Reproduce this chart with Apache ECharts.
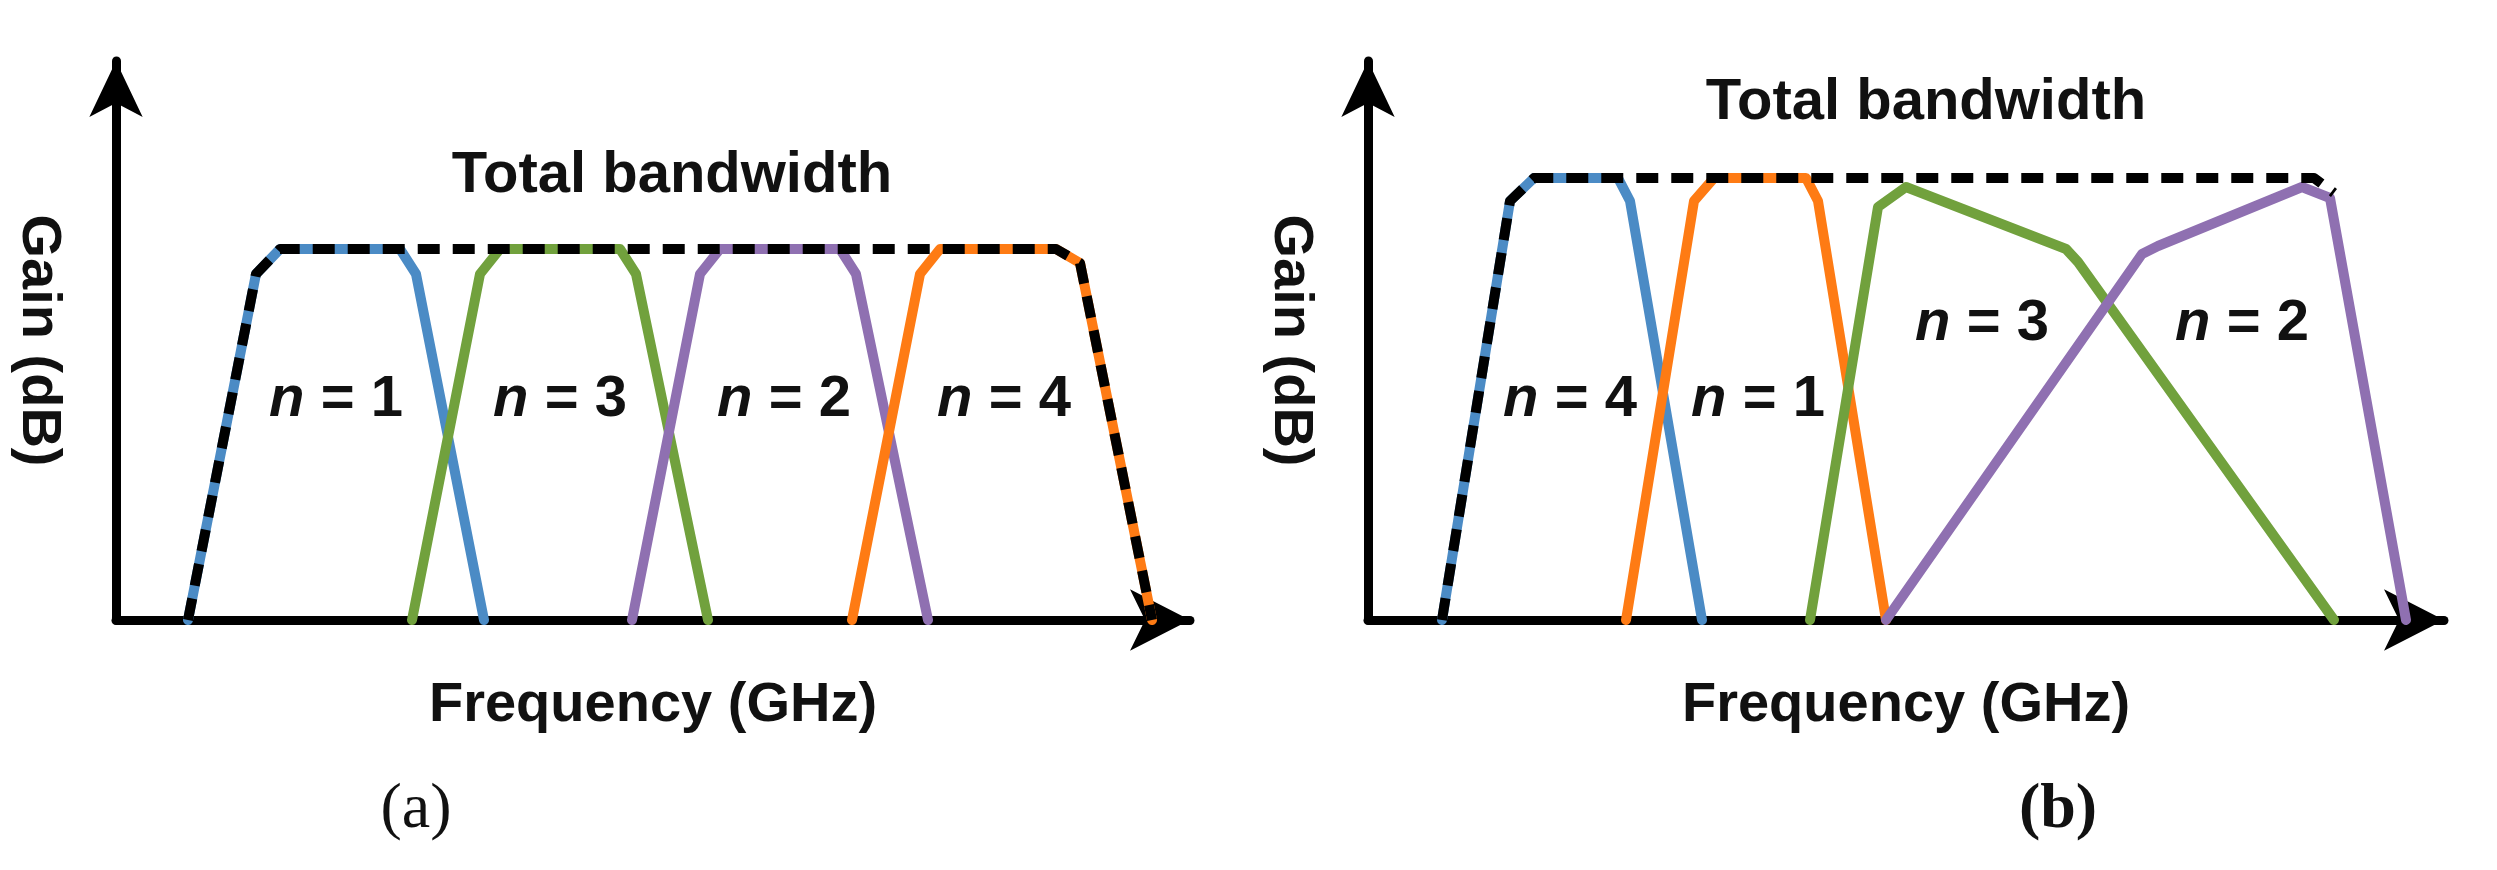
<!DOCTYPE html>
<html>
<head>
<meta charset="utf-8">
<script src="https://cdn.jsdelivr.net/npm/echarts@6/dist/echarts.min.js"></script>
<style>html,body{margin:0;background:#fff}#main{width:2497px;height:870px}</style>
</head>
<body>
<div id="main"></div>
<script>
// x = frequency offset from the gain axis, y = gain (arbitrary units)
var totalA = [[72,0],[140,346],[164,371],[940,371],[964,357],[1036,0]];
var n1A = [[72,0],[140,346],[164,371],[284,371],[300,346],[368,0]];
var n3A = [[296,0],[364,346],[384,371],[504,371],[520,346],[592,0]];
var n2A = [[516,0],[584,346],[604,371],[724,371],[740,346],[812,0]];
var n4A = [[736,0],[804,346],[824,371],[940,371],[964,357],[1036,0]];

var totalB = [[74,0],[142,419],[166,442],[946,442],[966,427]];
var n4B = [[74,0],[142,419],[166,442],[250,442],[262,419],[334,0]];
var n1B = [[258,0],[326,419],[346,442],[438,442],[450,419],[518,0]];
var n3B = [[442,0],[510,413],[538,433],[698,371],[710,358],[966,0]];
var n2B = [[518,0],[774,366],[790,374],[934,433],[962,422],[1038,0]];

var labelsA = [['n = 1',336,400],['n = 3',560,400],['n = 2',784,400],['n = 4',1004,400]];
var labelsB = [['n = 4',1570,400],['n = 1',1758,400],['n = 3',1982,324],['n = 2',2242,324]];

var BLUE = '#4b8bc5', GREEN = '#71a13d', PURPLE = '#8f70b1', ORANGE = '#fe7b14';
var FONT = '"Liberation Sans Narrow", "Liberation Sans", Arial, sans-serif';

var myChart = echarts.init(document.getElementById('main'));

function axes(i, xmax) {
    var axLine = {show: true, symbol: ['none', 'arrow'], lineStyle: {color: '#000', width: 9}};
    return {
        x: {
            gridIndex: i, type: 'value', min: 0, max: xmax,
            axisLine: Object.assign({}, axLine, {symbolSize: [46, 60]}),
            axisTick: {show: false}, axisLabel: {show: false}, splitLine: {show: false},
            name: 'Frequency (GHz)', nameLocation: 'middle', nameGap: 58,
            nameTextStyle: {fontFamily: FONT, fontWeight: 'bold', fontSize: 56, color: '#111'}
        },
        y: {
            gridIndex: i, type: 'value', min: 0, max: 559,
            axisLine: Object.assign({}, axLine, {symbolSize: [40, 56]}),
            axisTick: {show: false}, axisLabel: {show: false}, splitLine: {show: false},
            name: 'Gain (dB)', nameLocation: 'middle', nameGap: 50, nameRotate: -90,
            nameTextStyle: {fontFamily: FONT, fontWeight: 'bold', fontSize: 56, color: '#111'}
        }
    };
}
var ax0 = axes(0, 1074), ax1 = axes(1, 1076);

function line(data, color, idx, z) {
    return {
        type: 'line', data: data, xAxisIndex: idx, yAxisIndex: idx,
        showSymbol: false, z: z || 2, silent: true,
        lineStyle: {color: color, width: 10, join: 'round', cap: 'round'}
    };
}
function dashed(data, idx) {
    var s = line(data, '#000', idx, 5);
    s.lineStyle.type = [22, 13];
    s.lineStyle.cap = 'butt';
    return s;
}

var texts = [];
function addText(t, x, y, size, italicN) {
    texts.push({
        type: 'text', x: x, y: y, z: 10,
        style: {text: t, fontFamily: FONT, fontWeight: 'bold', fontSize: size,
            fontStyle: italicN ? 'normal' : 'normal', fill: '#111', align: 'center', verticalAlign: 'middle'}
    });
}
labelsA.concat(labelsB).forEach(function (l) {
    texts.push({
        type: 'text', x: l[1], y: l[2], z: 10,
        style: {
            text: '{i|n} = ' + l[0].slice(4), align: 'center', verticalAlign: 'middle',
            fontFamily: FONT, fontWeight: 'bold', fontSize: 58, fill: '#111',
            rich: {i: {fontStyle: 'italic', fontFamily: FONT, fontWeight: 'bold', fontSize: 58}}
        }
    });
});
addText('Total bandwidth', 672, 176, 58);
addText('Total bandwidth', 1926, 103, 58);
texts.push({type: 'text', x: 416, y: 810, style: {text: '(a)', fontFamily: '"Liberation Serif", serif', fontSize: 64, fill: '#111', align: 'center', verticalAlign: 'middle'}});
texts.push({type: 'text', x: 2058, y: 810, style: {text: '(b)', fontFamily: '"Liberation Serif", serif', fontWeight: 'bold', fontSize: 64, fill: '#111', align: 'center', verticalAlign: 'middle'}});

myChart.setOption({
    animation: false,
    grid: [
        {left: 116, top: 61, width: 1074, height: 559},
        {left: 1368, top: 61, width: 1076, height: 559}
    ],
    xAxis: [ax0.x, ax1.x],
    yAxis: [ax0.y, ax1.y],
    graphic: texts,
    series: [
        line(n1A, BLUE, 0), line(n3A, GREEN, 0), line(n2A, PURPLE, 0), line(n4A, ORANGE, 0),
        dashed(totalA, 0),
        line(n4B, BLUE, 1), line(n1B, ORANGE, 1), line(n3B, GREEN, 1), line(n2B, PURPLE, 1),
        dashed(totalB, 1)
    ]
});
window.onresize = myChart.resize;
</script>
</body>
</html>
